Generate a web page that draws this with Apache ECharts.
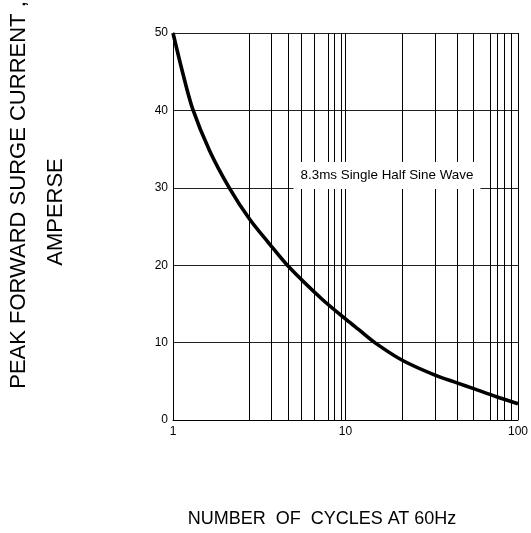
<!DOCTYPE html>
<html>
<head>
<meta charset="utf-8">
<script src="https://cdn.jsdelivr.net/npm/echarts@6/dist/echarts.min.js"></script>
<style>
  html, body { margin: 0; padding: 0; background: #fff; }
  #chart { width: 531px; height: 533px; }
</style>
</head>
<body>
<div id="chart"></div>
<script>
// surge curve
const cycles = [1, 1.14, 1.3, 1.63, 2.12, 2.79, 3.61, 4.6, 7.32, 10.2, 11.9, 15, 21.6, 33, 44.3, 55.3, 75, 100];
const surgeCurrent = [50, 44.8, 40.2, 34.8, 30, 25.9, 22.8, 20, 15.6, 12.9, 11.7, 9.9, 7.65, 5.8, 4.8, 4.05, 3.0, 2.1];
// the vertical minor grid lines of the original (not quite at 2..9)
const gridCycles = [2.78, 3.72, 4.64, 5.57, 6.62, 7.9, 8.63, 9.47, 21.4, 33, 44.3, 55.3, 69.3, 75.7, 83.1, 91.1];
const noteText = '8.3ms Single Half Sine Wave';
const notePos = [17.4, 31.6];

const font = '"Liberation Sans", Arial, sans-serif';
const chart = echarts.init(document.getElementById('chart'));

chart.setOption({
  animation: false,
  grid: { left: 173, right: 11, top: 33, bottom: 113 },
  xAxis: {
    type: 'log',
    logBase: 10,
    min: 1,
    max: 100,
    axisLine: { show: true, onZero: false, lineStyle: { color: '#000', width: 1 } },
    axisTick: { show: false },
    axisLabel: { color: '#000', fontSize: 12, fontFamily: font, margin: 6 },
    splitLine: { show: true, lineStyle: { color: '#000', width: 1 } }
  },
  yAxis: {
    type: 'value',
    min: 0,
    max: 50,
    interval: 10,
    axisLine: { show: true, lineStyle: { color: '#000', width: 1 } },
    axisTick: { show: false },
    axisLabel: { color: '#000', fontSize: 12, fontFamily: font, margin: 5 },
    splitLine: { show: true, lineStyle: { color: '#222', width: 1 } }
  },
  graphic: [
    {
      type: 'text',
      x: 19, y: 195,
      rotation: Math.PI / 2,
      style: {
        text: 'PEAK FORWARD SURGE CURRENT ,',
        font: '22px ' + font,
        fill: '#000',
        align: 'center',
        verticalAlign: 'middle'
      }
    },
    {
      type: 'text',
      x: 56, y: 212,
      rotation: Math.PI / 2,
      style: {
        text: 'AMPERSE',
        font: '22px ' + font,
        fill: '#000',
        align: 'center',
        verticalAlign: 'middle'
      }
    },
    {
      type: 'text',
      x: 322, y: 519,
      style: {
        text: 'NUMBER  OF  CYCLES AT 60Hz',
        font: '18px ' + font,
        fill: '#000',
        align: 'center',
        verticalAlign: 'middle'
      }
    }
  ],
  series: [
    {
      type: 'line',
      data: cycles.map((c, i) => [c, surgeCurrent[i]]),
      showSymbol: false,
      smooth: 0.3,
      z: 3,
      lineStyle: { color: '#000', width: 3.6 },
      markLine: {
        silent: true,
        symbol: 'none',
        z: 1,
        label: { show: false },
        lineStyle: { color: '#000', width: 1, type: 'solid' },
        data: gridCycles.map(v => ({ xAxis: v }))
      },
      markPoint: {
        silent: true,
        z: 10,
        symbol: 'rect',
        symbolSize: 0,
        data: [{ coord: notePos, value: noteText }],
        label: {
          show: true,
          position: 'inside',
          formatter: '{c}',
          color: '#000',
          fontSize: 13.4,
          fontFamily: font,
          backgroundColor: '#fff',
          padding: [6, 7, 8, 7]
        }
      }
    }
  ]
});
</script>
</body>
</html>
